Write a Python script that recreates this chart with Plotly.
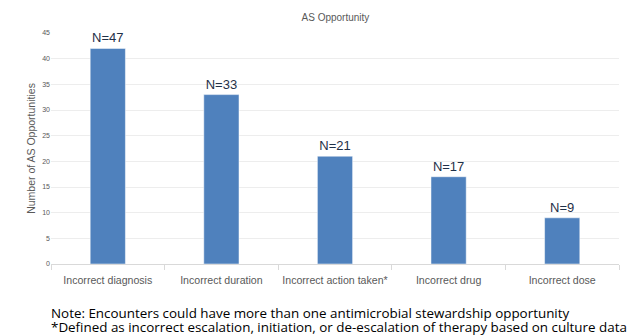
import plotly.graph_objects as go

categories = ["Incorrect diagnosis", "Incorrect duration", "Incorrect action taken*",
              "Incorrect drug", "Incorrect dose"]
values = [42, 33, 21, 17, 9]
n_labels = [47, 33, 21, 17, 9]
y_ticks = [0, 5, 10, 15, 20, 25, 30, 35, 40, 45]
notes = ["Note: Encounters could have more than one antimicrobial stewardship opportunity",
         "*Defined as incorrect escalation, initiation, or de-escalation of therapy based on culture data"]

FONT = "Liberation Sans, Arial, sans-serif"
NOTE_FONT = "Open Sans, sans-serif"

fig = go.Figure()
fig.add_trace(go.Bar(
    x=categories, y=values,
    text=[f"N={n}" for n in n_labels],
    textposition="outside",
    textfont=dict(family=FONT, size=13, color="#1F3048"),
    cliponaxis=False,
    marker=dict(color="#4F81BD", line=dict(color="#FFFFFF", width=0.5)),
    width=0.31,
))

fig.update_layout(
    width=627, height=336,
    margin=dict(l=51, r=8, t=33, b=72, autoexpand=False),
    paper_bgcolor="white", plot_bgcolor="white",
    showlegend=False,
    font=dict(family=FONT),
    title=dict(text="AS Opportunity", x=0.535, xanchor="center", y=0.948, yanchor="middle",
               font=dict(family=FONT, size=10, color="#595959")),
    xaxis=dict(
        showgrid=False, showline=True, linecolor="#D9D9D9", linewidth=1,
        ticks="outside", tickson="boundaries", ticklen=5, tickcolor="#D9D9D9",
        ticklabelstandoff=6, tickangle=0, automargin=False,
        tickfont=dict(family=FONT, size=10.6, color="#595959"),
    ),
    yaxis=dict(
        range=[0, 45], tickvals=y_ticks, showgrid=True, gridcolor="#EDEDED", gridwidth=1,
        zeroline=False, showline=False, automargin=False,
        tickfont=dict(family=FONT, size=7, color="#595959"),
        title=dict(text="Number of AS Opportunities", standoff=4,
                   font=dict(family=FONT, size=10.5, color="#595959")),
    ),
)

for i, line in enumerate(notes):
    fig.add_annotation(
        text=line,
        xref="paper", yref="paper", x=-0.004, y=-0.212 - i * 0.0606,
        xanchor="left", yanchor="middle",
        align="left", showarrow=False,
        font=dict(family=NOTE_FONT, size=13.4, color="#000000"),
    )

fig.write_html("out.html")
